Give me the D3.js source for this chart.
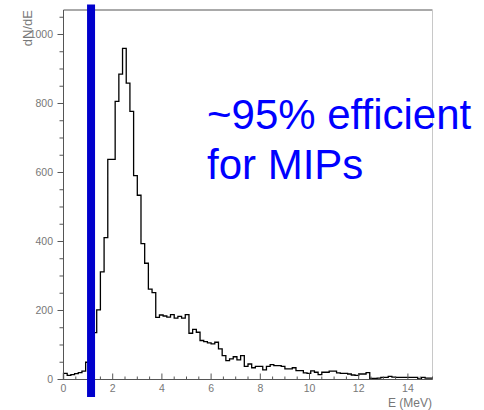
<!DOCTYPE html>
<html><head><meta charset="utf-8">
<script src="https://cdn.jsdelivr.net/npm/d3@7/dist/d3.min.js"></script>
<style>
html,body{margin:0;padding:0;background:#fff;}
svg{display:block;}
text{font-family:"Liberation Sans",Arial,Helvetica,sans-serif;}
</style></head>
<body>
<svg id="chart" width="484" height="410"></svg>
<script>
// ---- data ----
const binStart = 0;
const binWidth = 0.15; // MeV
const counts = [18,12,14,17,20,24,50,90,136,202,312,411,638,638,806,885,960,859,777,591,
  534,394,337,262,252,180,187,184,181,188,178,183,178,188,134,145,137,113,110,106,
  103,108,89,69,55,60,66,57,69,38,45,34,38,38,28,38,43,40,40,38,
  31,31,34,26,26,19,18,25,21,14,21,21,24,24,19,18,18,16,13,12,
  16,16,20,3,3,4,6,6,9,7,6,6,6,6,6,6,2,6,4,4];
const xTicks = [0,2,4,6,8,10,12,14];
const yTicks = [0,200,400,600,800,1000];
const threshold = 1.12; // MeV, blue cut line
const xTitle = "E (MeV)";
const yTitle = "dN/dE";
const noteLines = ["~95% efficient", "for MIPs"];

// ---- layout ----
const svg = d3.select("#chart");
const x = d3.scaleLinear().domain([0,15]).range([63.5,432.5]);
const y = d3.scaleLinear().domain([0,1071]).range([379.5,10]);
const axisCol = "#555", labelCol = "#777";

// frame top / right
svg.append("line").attr("x1",x(0)).attr("x2",x(15)).attr("y1",y(1071)).attr("y2",y(1071))
  .attr("stroke","#555").attr("stroke-width",1);
svg.append("line").attr("x1",x(15)).attr("x2",x(15)).attr("y1",y(1071)).attr("y2",y(0))
  .attr("stroke","#c8c8c8").attr("stroke-width",1);

// histogram
const pts = [[x(binStart), y(0)]];
counts.forEach((c,i)=>{
  const x0 = x(binStart + i*binWidth), x1 = x(binStart + (i+1)*binWidth);
  pts.push([x0, y(c)]); pts.push([x1, y(c)]);
});
svg.append("path")
  .attr("d", d3.line().curve(d3.curveLinear)(pts))
  .attr("fill","none").attr("stroke","#000").attr("stroke-width",1.3)
  .attr("stroke-linejoin","miter");

// x axis (ticks pointing up)
const gx = svg.append("g");
gx.append("line").attr("x1",x(0)).attr("x2",x(15)).attr("y1",y(0)).attr("y2",y(0))
  .attr("stroke",axisCol);
d3.range(0,15.01,0.5).forEach(v=>{
  const major = Math.abs(v%2) < 1e-6;
  gx.append("line").attr("x1",x(v)).attr("x2",x(v)).attr("y1",y(0)).attr("y2",y(0)-(major?6:3))
    .attr("stroke",axisCol);
});
gx.selectAll("text.xt").data(xTicks).enter().append("text")
  .attr("x",d=>x(d)).attr("y",391.5).attr("text-anchor","middle")
  .attr("font-size",10.5).attr("fill",labelCol).text(d=>d);

// y axis (ticks pointing left)
const gy = svg.append("g");
gy.append("line").attr("x1",x(0)).attr("x2",x(0)).attr("y1",y(0)).attr("y2",y(1071))
  .attr("stroke",axisCol);
d3.range(0,1071,50).forEach(v=>{
  const major = v%200===0;
  gy.append("line").attr("x1",x(0)).attr("x2",x(0)-(major?6:4)).attr("y1",y(v)).attr("y2",y(v))
    .attr("stroke",axisCol);
});
gy.selectAll("text.yt").data(yTicks).enter().append("text")
  .attr("x",53).attr("y",d=>y(d)+3.8).attr("text-anchor","end")
  .attr("font-size",10.5).attr("fill",labelCol).text(d=>d);

// titles
svg.append("text").attr("x",432).attr("y",407).attr("text-anchor","end")
  .attr("font-size",12).attr("fill",labelCol).text(xTitle);
svg.append("text").attr("transform","translate(31.5,10) rotate(-90)")
  .attr("text-anchor","end").attr("font-size",13).attr("fill",labelCol).text(yTitle);

// threshold bar
svg.append("rect").attr("x",x(threshold)-4).attr("width",8)
  .attr("y",4.5).attr("height",392.5).attr("fill","#0000cc");

// annotation
svg.selectAll("text.note").data(noteLines).enter().append("text")
  .attr("x",207).attr("y",(d,i)=>129+i*50).attr("font-size",42)
  .attr("fill","#0000ff").text(d=>d);
</script>
</body></html>
